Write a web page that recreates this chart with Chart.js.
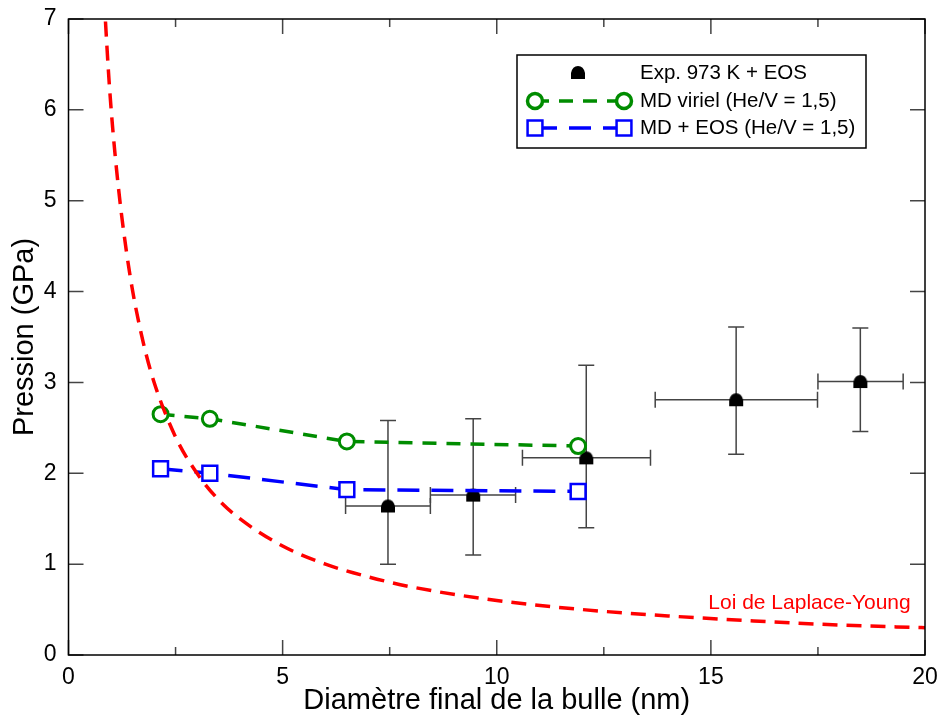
<!DOCTYPE html>
<html>
<head>
<meta charset="utf-8">
<script src="https://cdn.jsdelivr.net/npm/chart.js@4"></script>
<style>
  html, body { margin: 0; padding: 0; background: #fff; }
  #wrap { width: 941px; height: 719px; position: relative; }
</style>
</head>
<body>
<div id="wrap"><canvas id="chart"></canvas></div>
<script>
// Laplace-Young curve
const lapD = [0.8, 0.86, 0.95, 1.05, 1.2, 1.35, 1.5, 1.75, 2, 2.5, 3, 3.5, 4, 5, 6, 7, 8, 10, 12, 14, 16, 18, 20];
const lapP = [7.5, 7.0, 6.3, 5.7, 5.0, 4.45, 4.0, 3.43, 3.0, 2.4, 2.0, 1.71, 1.5, 1.2, 1.0, 0.86, 0.75, 0.6, 0.5, 0.43, 0.375, 0.33, 0.3];

// MD viriel (He/V = 1,5)
const mdX = [2.15, 3.3, 6.5, 11.9];
const mdViriel = [2.65, 2.6, 2.35, 2.3];
// MD + EOS (He/V = 1,5)
const mdEos = [2.05, 2.0, 1.82, 1.8];

// Exp. 973 K + EOS with error bars
const expX = [7.46, 9.45, 12.09, 15.59, 18.49];
const expY = [1.64, 1.76, 2.17, 2.81, 3.01];
const expXLow = [6.47, 8.45, 10.6, 13.7, 17.5];
const expXHigh = [8.45, 10.44, 13.59, 17.49, 19.49];
const expYLow = [1.0, 1.1, 1.4, 2.21, 2.46];
const expYHigh = [2.58, 2.6, 3.19, 3.61, 3.6];

const xTicks = [0, 5, 10, 15, 20];
const yTicks = [0, 1, 2, 3, 4, 5, 6, 7];

const FONT = "'Liberation Sans', Arial, Helvetica, sans-serif";
const GREEN = 'rgb(0,140,0)';
const BLUE = 'rgb(0,0,255)';
const RED = 'rgb(255,0,0)';

function makeExpMarker() {
  const c = document.createElement('canvas');
  c.width = 16;
  c.height = 15;
  const g = c.getContext('2d');
  g.fillStyle = '#000';
  g.beginPath();
  g.moveTo(1, 14);
  g.lineTo(15, 14);
  g.lineTo(15, 8);
  g.quadraticCurveTo(13.5, 1, 8, 1);
  g.quadraticCurveTo(2.5, 1, 1, 8);
  g.closePath();
  g.fill();
  return c;
}
const expMarker = makeExpMarker();

const errorBars = {
  id: 'errorBars',
  beforeDatasetsDraw(chart) {
    const { ctx, scales: { x, y } } = chart;
    ctx.save();
    ctx.strokeStyle = '#444';
    ctx.lineWidth = 1.5;
    const cap = 8;
    expX.forEach((v, i) => {
      const px = x.getPixelForValue(v);
      const py = y.getPixelForValue(expY[i]);
      const yl = y.getPixelForValue(expYLow[i]);
      const yh = y.getPixelForValue(expYHigh[i]);
      const xl = x.getPixelForValue(expXLow[i]);
      const xh = x.getPixelForValue(expXHigh[i]);
      ctx.beginPath();
      ctx.moveTo(px, yl); ctx.lineTo(px, yh);
      ctx.moveTo(px - cap, yl); ctx.lineTo(px + cap, yl);
      ctx.moveTo(px - cap, yh); ctx.lineTo(px + cap, yh);
      ctx.moveTo(xl, py); ctx.lineTo(xh, py);
      ctx.moveTo(xl, py - cap); ctx.lineTo(xl, py + cap);
      ctx.moveTo(xh, py - cap); ctx.lineTo(xh, py + cap);
      ctx.stroke();
    });
    ctx.restore();
  }
};

const frameTicks = {
  id: 'frameTicks',
  afterDatasetsDraw(chart) {
    const { ctx, chartArea: a, scales: { x, y } } = chart;
    ctx.save();
    ctx.strokeStyle = '#444';
    ctx.lineWidth = 1.5;
    ctx.beginPath();
    xTicks.forEach(v => {
      const px = x.getPixelForValue(v);
      ctx.moveTo(px, a.bottom); ctx.lineTo(px, a.bottom - 15);
      ctx.moveTo(px, a.top); ctx.lineTo(px, a.top + 15);
    });
    for (let v = 2.5; v < 20; v += 5) {
      const px = x.getPixelForValue(v);
      ctx.moveTo(px, a.bottom); ctx.lineTo(px, a.bottom - 8);
      ctx.moveTo(px, a.top); ctx.lineTo(px, a.top + 8);
    }
    yTicks.forEach(v => {
      const py = y.getPixelForValue(v);
      ctx.moveTo(a.left, py); ctx.lineTo(a.left + 15, py);
      ctx.moveTo(a.right, py); ctx.lineTo(a.right - 15, py);
    });
    ctx.stroke();
    ctx.strokeStyle = '#000';
    ctx.strokeRect(a.left, a.top, a.right - a.left, a.bottom - a.top);

    // curve label
    ctx.fillStyle = RED;
    ctx.font = '21px ' + FONT;
    ctx.textBaseline = 'middle';
    ctx.fillText('Loi de Laplace-Young', x.getPixelForValue(14.94), y.getPixelForValue(0.57));
    ctx.restore();
  }
};

const legendBox = {
  id: 'legendBox',
  afterDraw(chart) {
    const ctx = chart.ctx;
    const ds = chart.data.datasets;
    const draw = Chart.helpers.drawPoint;
    ctx.save();
    ctx.fillStyle = '#fff';
    ctx.strokeStyle = '#000';
    ctx.lineWidth = 1.5;
    ctx.fillRect(517, 55, 349, 93);
    ctx.strokeRect(517, 55, 349, 93);

    ctx.font = '20.5px ' + FONT;
    ctx.textBaseline = 'middle';
    ctx.fillStyle = '#000';

    // Exp
    ctx.drawImage(expMarker, 578 - 8, 72 - 7);
    ctx.fillText(ds[3].label, 640, 73);

    // MD viriel
    ctx.strokeStyle = GREEN;
    ctx.lineWidth = 3.5;
    ctx.setLineDash([14, 10]);
    ctx.beginPath(); ctx.moveTo(535, 101); ctx.lineTo(624, 101); ctx.stroke();
    ctx.setLineDash([]);
    ctx.fillStyle = '#fff';
    [535, 624].forEach(px => draw(ctx, { pointStyle: 'circle', radius: 7.5, borderWidth: 3, rotation: 0 }, px, 101));
    ctx.fillStyle = '#000';
    ctx.fillText(ds[1].label, 640, 101);

    // MD + EOS
    ctx.strokeStyle = BLUE;
    ctx.lineWidth = 3.5;
    ctx.setLineDash([22, 12]);
    ctx.beginPath(); ctx.moveTo(535, 128); ctx.lineTo(624, 128); ctx.stroke();
    ctx.setLineDash([]);
    ctx.fillStyle = '#fff';
    ctx.lineWidth = 2.5;
    [535, 624].forEach(px => draw(ctx, { pointStyle: 'rect', radius: 10.5, borderWidth: 2.5, rotation: 0 }, px, 128));
    ctx.fillStyle = '#000';
    ctx.fillText(ds[2].label, 640, 128);
    ctx.restore();
  }
};

new Chart(document.getElementById('chart'), {
  type: 'scatter',
  data: {
    datasets: [
      {
        label: 'Loi de Laplace-Young',
        data: lapD.map((d, i) => ({ x: d, y: lapP[i] })),
        showLine: true,
        borderColor: RED,
        borderWidth: 3.5,
        borderDash: [15, 9],
        pointRadius: 0,
        cubicInterpolationMode: 'monotone'
      },
      {
        label: 'MD viriel (He/V = 1,5)',
        data: mdX.map((d, i) => ({ x: d, y: mdViriel[i] })),
        showLine: true,
        borderColor: GREEN,
        borderWidth: 3.5,
        borderDash: [14, 10],
        pointStyle: 'circle',
        pointRadius: 7.5,
        pointBorderWidth: 3,
        pointBorderColor: GREEN,
        pointBackgroundColor: '#fff'
      },
      {
        label: 'MD + EOS (He/V = 1,5)',
        data: mdX.map((d, i) => ({ x: d, y: mdEos[i] })),
        showLine: true,
        borderColor: BLUE,
        borderWidth: 3.5,
        borderDash: [22, 12],
        pointStyle: 'rect',
        pointRadius: 10.5,
        pointBorderWidth: 2.5,
        pointBorderColor: BLUE,
        pointBackgroundColor: '#fff'
      },
      {
        label: 'Exp. 973 K + EOS',
        data: expX.map((d, i) => ({ x: d, y: expY[i] })),
        showLine: false,
        pointStyle: expMarker,
        pointRadius: 8
      }
    ]
  },
  options: {
    responsive: true,
    maintainAspectRatio: false,
    animation: false,
    layout: { padding: { top: 19, right: 16, left: 0, bottom: 0 } },
    plugins: {
      legend: { display: false },
      tooltip: { enabled: false }
    },
    scales: {
      x: {
        type: 'linear',
        min: 0,
        max: 20,
        afterFit: s => { s.height = 64; },
        afterBuildTicks: s => { s.ticks = xTicks.map(v => ({ value: v })); },
        grid: { display: false },
        border: { display: false },
        ticks: { color: '#000', font: { family: FONT, size: 23 }, padding: 1, maxRotation: 0 },
        title: {
          display: true,
          text: 'Diamètre final de la bulle (nm)',
          color: '#000',
          font: { family: FONT, size: 29 },
          padding: { top: 0, bottom: 1 }
        }
      },
      y: {
        type: 'linear',
        min: 0,
        max: 7,
        afterFit: s => { s.width = 68.5; },
        afterBuildTicks: s => { s.ticks = yTicks.map(v => ({ value: v })); },
        grid: { display: false },
        border: { display: false },
        ticks: { color: '#000', font: { family: FONT, size: 23 }, padding: 4 },
        title: {
          display: true,
          text: 'Pression (GPa)',
          color: '#000',
          font: { family: FONT, size: 29 },
          padding: { top: 8, bottom: 0 }
        }
      }
    }
  },
  plugins: [errorBars, frameTicks, legendBox]
});
</script>
</body>
</html>
